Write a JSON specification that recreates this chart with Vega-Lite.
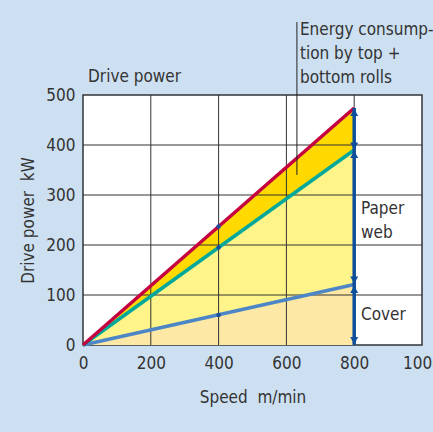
{
  "$schema": "https://vega.github.io/schema/vega-lite/v6.json",
  "width": 339,
  "height": 250,
  "autosize": {"type": "none"},
  "padding": {"left": 83, "top": 95, "right": 11, "bottom": 87},
  "background": "#cde0f2",
  "config": {
    "view": {"fill": "white", "stroke": "#333333", "strokeWidth": 1.5},
    "font": "DejaVu Sans Condensed",
    "axis": {"grid": false, "domain": false, "ticks": false, "labelFlush": false, "labelOverlap": false, "labelFontSize": 17, "labelColor": "#333333", "titleFontSize": 17, "titleFontWeight": "normal", "titleColor": "#333333"}
  },
  "datasets": {
    "lines": [
      {"speed": 0, "red": 0, "teal": 0, "blue": 0},
      {"speed": 800, "red": 474, "teal": 390, "blue": 121}
    ],
    "dots": [
      {"speed": 400, "power": 237},
      {"speed": 400, "power": 195},
      {"speed": 400, "power": 60}
    ],
    "gridx": [{"v": 200}, {"v": 400}, {"v": 600}, {"v": 800}],
    "gridy": [{"v": 100}, {"v": 200}, {"v": 300}, {"v": 400}],
    "arrows": [
      {"speed": 800, "from": 0, "to": 474}
    ],
    "heads": [
      {"speed": 800, "power": 465, "dir": "up"},
      {"speed": 800, "power": 398, "dir": "down"},
      {"speed": 800, "power": 381, "dir": "up"},
      {"speed": 800, "power": 130, "dir": "down"},
      {"speed": 800, "power": 111, "dir": "up"},
      {"speed": 800, "power": 9, "dir": "down"}
    ],
    "annot": [{"speed": 631, "from": 340, "to": 646}],
    "labels": [
      {"speed": 640, "power": 646, "text": "Energy consump-\ntion by top +\nbottom rolls"},
      {"speed": 15, "power": 552, "text": "Drive power"},
      {"speed": 820, "power": 288, "text": "Paper\nweb"},
      {"speed": 820, "power": 76, "text": "Cover"}
    ]
  },
  "layer": [
    {
      "data": {"name": "lines"},
      "mark": {"type": "area", "color": "#fde9a5"},
      "encoding": {
        "x": {"field": "speed", "type": "quantitative", "scale": {"domain": [0, 1000], "nice": false}, "axis": {"values": [0, 200, 400, 600, 800, 1000], "format": "d", "title": "Speed\u00a0 m/min", "labelPadding": 10, "titlePadding": 18}},
        "y": {"field": "blue", "type": "quantitative", "scale": {"domain": [0, 500], "nice": false}, "axis": {"values": [0, 100, 200, 300, 400, 500], "title": "Drive power\u00a0 kW", "labelPadding": 8, "titlePadding": 8}},
        "y2": {"datum": 0}
      }
    },
    {
      "data": {"name": "lines"},
      "mark": {"type": "area", "color": "#fff48a"},
      "encoding": {
        "x": {"field": "speed", "type": "quantitative"},
        "y": {"field": "teal", "type": "quantitative"},
        "y2": {"field": "blue"}
      }
    },
    {
      "data": {"name": "lines"},
      "mark": {"type": "area", "color": "#ffd900"},
      "encoding": {
        "x": {"field": "speed", "type": "quantitative"},
        "y": {"field": "red", "type": "quantitative"},
        "y2": {"field": "teal"}
      }
    },
    {
      "data": {"name": "gridx"},
      "mark": {"type": "rule", "color": "#333333", "strokeWidth": 1},
      "encoding": {"x": {"field": "v", "type": "quantitative"}}
    },
    {
      "data": {"name": "gridy"},
      "mark": {"type": "rule", "color": "#333333", "strokeWidth": 1},
      "encoding": {"y": {"field": "v", "type": "quantitative"}}
    },
    {
      "data": {"name": "lines"},
      "mark": {"type": "line", "color": "#4d86c6", "strokeWidth": 3.5},
      "encoding": {"x": {"field": "speed", "type": "quantitative"}, "y": {"field": "blue", "type": "quantitative"}}
    },
    {
      "data": {"name": "lines"},
      "mark": {"type": "line", "color": "#00a89b", "strokeWidth": 3.5},
      "encoding": {"x": {"field": "speed", "type": "quantitative"}, "y": {"field": "teal", "type": "quantitative"}}
    },
    {
      "data": {"name": "lines"},
      "mark": {"type": "line", "color": "#c4003f", "strokeWidth": 3.5},
      "encoding": {"x": {"field": "speed", "type": "quantitative"}, "y": {"field": "red", "type": "quantitative"}}
    },
    {
      "data": {"name": "dots"},
      "mark": {"type": "point", "filled": true, "color": "#1a4f9c", "size": 20, "opacity": 1},
      "encoding": {"x": {"field": "speed", "type": "quantitative"}, "y": {"field": "power", "type": "quantitative"}}
    },
    {
      "data": {"name": "arrows"},
      "mark": {"type": "rule", "color": "#0d4f9c", "strokeWidth": 3.5},
      "encoding": {"x": {"field": "speed", "type": "quantitative"}, "y": {"field": "from", "type": "quantitative"}, "y2": {"field": "to"}}
    },
    {
      "data": {"name": "heads"},
      "mark": {"type": "point", "filled": true, "color": "#0d4f9c", "size": 65, "opacity": 1},
      "encoding": {
        "x": {"field": "speed", "type": "quantitative"},
        "y": {"field": "power", "type": "quantitative"},
        "shape": {"field": "dir", "type": "nominal", "scale": {"domain": ["up", "down"], "range": ["triangle-up", "triangle-down"]}, "legend": null}
      }
    },
    {
      "data": {"name": "annot"},
      "mark": {"type": "rule", "color": "#222222", "strokeWidth": 1},
      "encoding": {"x": {"field": "speed", "type": "quantitative"}, "y": {"field": "from", "type": "quantitative"}, "y2": {"field": "to"}}
    },
    {
      "data": {"name": "labels"},
      "mark": {"type": "text", "align": "left", "baseline": "top", "fontSize": 17, "color": "#333333", "lineBreak": "\n", "lineHeight": 24},
      "encoding": {"x": {"field": "speed", "type": "quantitative"}, "y": {"field": "power", "type": "quantitative"}, "text": {"field": "text"}}
    }
  ]
}
